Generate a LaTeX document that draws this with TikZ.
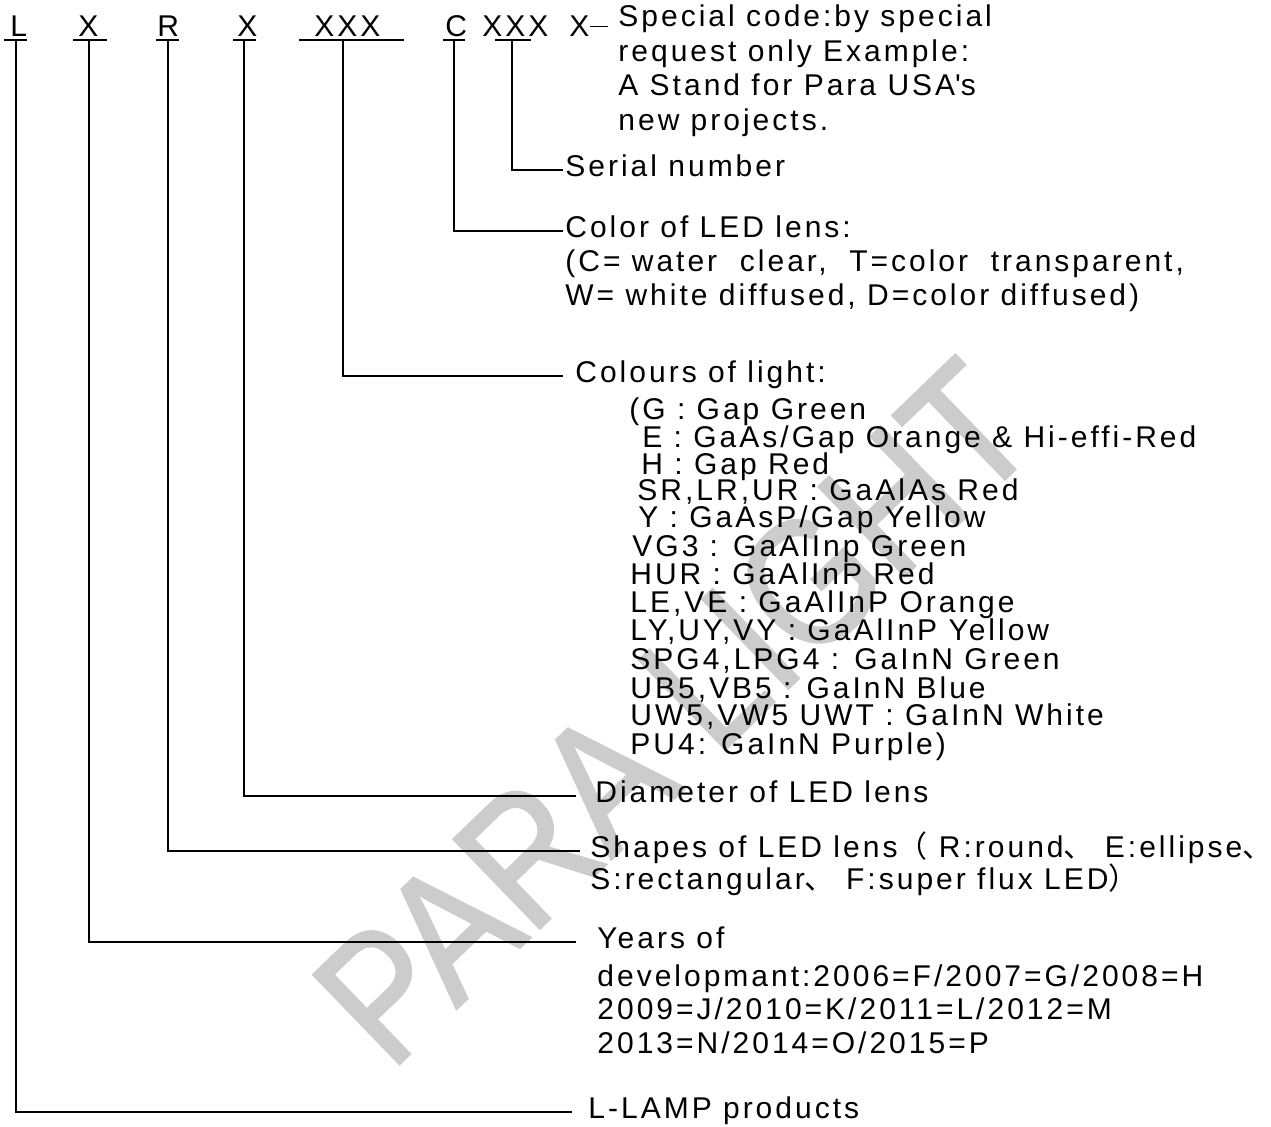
\documentclass[tikz,border=0pt]{standalone}
\usepackage{fontspec}
\setmainfont{Liberation Sans}[LetterSpace=10]
\newfontfamily\wmfont{Liberation Sans}[FakeBold=1.5]
\newfontfamily\cjk{Noto Sans CJK SC}

\begin{document}
\begin{tikzpicture}
[x=0.5pt,y=-0.5pt,%
  codeletter/.style={anchor=base west,inner sep=0pt,font=\fontsize{15}{17}\selectfont},
  labeltext/.style={anchor=base west,inner sep=0pt,text height=0.7em,text depth=0pt,
    font=\fontsize{15}{17}\selectfont},
  linedecorate/.style={-,line width=0.7pt},
  watermark/.style={anchor=base west,rotate=44,text=black!20,inner sep=0pt,
    font=\wmfont\fontsize{90}{90}\selectfont}]
\useasboundingbox (0,0) rectangle (1271,1127);
%% watermark
\node (wm) at (390,1073) [watermark] {\scalebox{0.86}[1]{PARA LIGHT}};
%% part number letters
\foreach \nodename/\x/\letters in {
  cL/10/L, cY/78/X, cR/157/R, cD/237/X, cC/314/XXX,
  cT/445/C, cS/482/XXX, cX/569/X}
{
  \node (\nodename) at (\x,37) [codeletter] {\letters};
}
%% underlines with their tap points
\foreach \nodename/\xa/\xm/\xb in {
  uL/4/16/27, uY/73/89/107, uR/156/168/179, uD/233/244/256,
  uC/299/343/404, uT/443/454/465, uS/495/512/531}
{
  \draw[linedecorate] (\xa,40) -- (\xb,40);
  \coordinate (\nodename) at (\xm,40);
}
%% explanations
\foreach \nodename/\x/\y/\content in {
  spec1/618/27/Special code:by special,
  spec2/618/61.5/request only Example:,
  spec3/618/96/{A Stand for Para USA\textquotesingle s},
  spec4/618/130.5/new projects.,
  serial/565/177/Serial number,
  color1/565/238/Color of LED lens:,
  color2/565/272/{(C= water\ \ clear,\ \ T=color\ \ transparent,},
  color3/565/306/{W= white diffused, D=color diffused)},
  light/575/383/Colours of light:,
  diam/595/803/Diameter of LED lens,
  shape1/590/858/{Shapes of LED lens{\cjk （} R:round{\cjk 、} E:ellipse{\cjk 、}},
  shape2/590/890/{S:rectangular{\cjk 、} F:super flux LED{\cjk ）}},
  years1/597/949/Years of,
  years2/597/987/{developmant:2006=F/2007=G/2008=H},
  years3/597/1020/{2009=J/2010=K/2011=L/2012=M},
  years4/597/1054/{2013=N/2014=O/2015=P},
  lamp/588/1119/L-LAMP products}
{
  \node (\nodename) at (\x,\y) [labeltext] {\content};
}
%% colours of light list
\foreach \nodename/\x/\y/\content in {
  lg1/629/420/(G : Gap Green,
  lg2/642/448/{E : GaAs/Gap Orange \& Hi-effi-Red},
  lg3/641/475/H : Gap Red,
  lg4/637/501/{SR,LR,UR : GaAlAs Red},
  lg5/638/528/{Y : GaAsP/Gap Yellow},
  lg6/632/557/VG3 : GaAlInp Green,
  lg7/630/585/HUR : GaAlInP Red,
  lg8/630/613/{LE,VE : GaAlInP Orange},
  lg9/630/641/{LY,UY,VY : GaAlInP Yellow},
  lg10/630/670/{SPG4,LPG4 : GaInN Green},
  lg11/630/699/{UB5,VB5 : GaInN Blue},
  lg12/630/726/{UW5,VW5 UWT : GaInN White},
  lg13/630/755/PU4: GaInN Purple)}
{
  \node (\nodename) at (\x,\y) [labeltext] {\content};
}
%% leader lines
\draw[linedecorate] (cX.east) -- ([xshift=-5pt]spec1.west |- cX.east);
\foreach \startnode/\endnode/\gap in {
  uS/serial/1pt, uT/color1/1pt, uC/light/6pt, uD/diam/9.5pt,
  uR/shape1/5pt, uY/years1/10.5pt, uL/lamp/8pt}
{
  \draw[linedecorate] (\startnode) |- ([xshift=-\gap]\endnode.west);
}
\end{tikzpicture}
\end{document}
